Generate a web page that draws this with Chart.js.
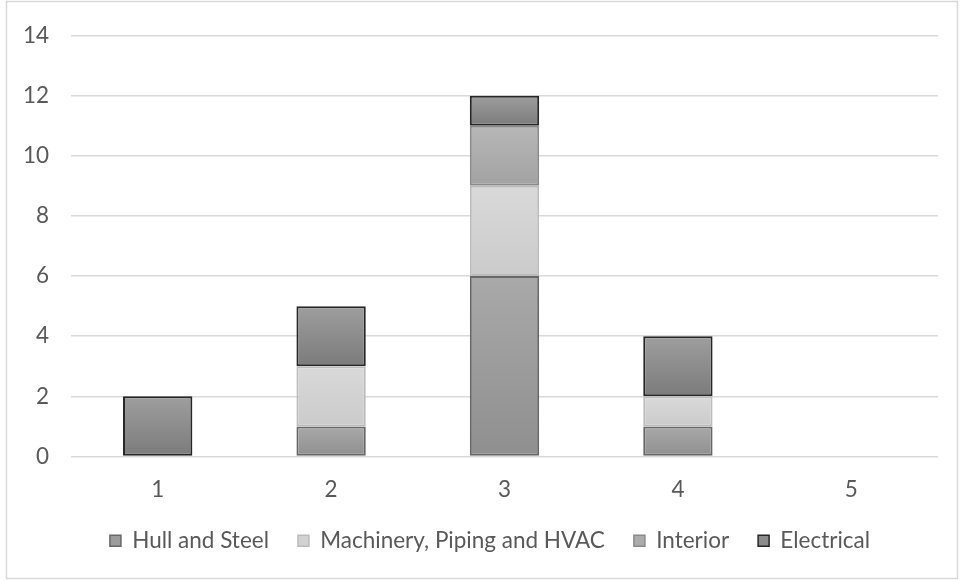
<!DOCTYPE html>
<html>
<head>
<meta charset="utf-8">
<script src="https://cdn.jsdelivr.net/npm/chart.js@4"></script>
<style>
  html, body { margin: 0; padding: 0; background: #fff; }
  #wrap { position: relative; width: 961px; height: 580px; }
</style>
</head>
<body>
<div id="wrap"><canvas id="chartArea" width="961" height="580"></canvas></div>
<script>
// Data
const categories = ['1', '2', '3', '4', '5'];
const seriesNames = ['Hull and Steel', 'Machinery, Piping and HVAC', 'Interior', 'Electrical'];
const hullSteel = [0, 1, 6, 1, 0];
const machinery = [0, 2, 3, 1, 0];
const interior = [0, 0, 2, 0, 0];
const electrical = [2, 2, 1, 2, 0];

// Colors (gradient top, gradient bottom, border)
const styles = [
    { top: '#a9a9a9', bottom: '#8f8f8f', flat: '#9c9c9c', border: '#676767' },
    { top: '#d9d9d9', bottom: '#cbcbcb', flat: '#d2d2d2', border: '#bcbcbc' },
    { top: '#b7b7b7', bottom: '#a2a2a2', flat: '#ababab', border: '#8a8a8a' },
    { top: '#9e9e9e', bottom: '#7b7b7b', flat: '#8c8c8c', border: '#262626' }
];

const textColor = '#595959';
const fontFamily = 'Lato, "Open Sans", sans-serif';
const fontSize = 22.5;

// each stacked segment gets its own vertical gradient
function segmentGradient(style) {
    return ctx => {
        if (ctx.type !== 'data') return style.flat;
        const chart = ctx.chart;
        const y = chart.scales.y;
        if (!y || !chart.chartArea) return style.flat;
        let start = 0;
        for (let d = 0; d < ctx.datasetIndex; d++) start += chart.data.datasets[d].data[ctx.dataIndex];
        const end = start + ctx.raw;
        const y0 = y.getPixelForValue(end);
        const y1 = y.getPixelForValue(start);
        if (!(y1 > y0)) return style.flat;
        const g = chart.ctx.createLinearGradient(0, y0, 0, y1);
        g.addColorStop(0, style.top);
        g.addColorStop(1, style.bottom);
        return g;
    };
}

const seriesData = [hullSteel, machinery, interior, electrical];

// light frame around the whole chart, legend nudged to sit under the plot
const framePlugin = {
    id: 'frame',
    afterLayout(chart) {
        const lg = chart.legend;
        if (lg) {
            lg.left += 21;
            lg.right += 21;
            lg.top -= 6;
            lg.bottom -= 6;
        }
    },
    beforeDraw(chart) {
        const c = chart.ctx;
        c.save();
        c.strokeStyle = '#d9d9d9';
        c.lineWidth = 1.5;
        c.strokeRect(6.5, 1.5, 951, 577);
        c.restore();
    }
};

new Chart(document.getElementById('chartArea'), {
    type: 'bar',
    data: {
        labels: categories,
        datasets: seriesNames.map((name, i) => ({
            label: name,
            data: seriesData[i],
            backgroundColor: segmentGradient(styles[i]),
            borderColor: styles[i].border,
            borderWidth: 2,
            borderSkipped: false,
            barPercentage: 0.4,
            categoryPercentage: 1
        }))
    },
    options: {
        responsive: false,
        animation: false,
        layout: { padding: { left: 0, right: 23, top: 32, bottom: 12 } },
        scales: {
            x: {
                stacked: true,
                grid: { display: false },
                border: { display: false },
                ticks: { color: textColor, font: { family: fontFamily, size: fontSize }, padding: 12 },
                afterFit: s => { s.height = 50; }
            },
            y: {
                stacked: true,
                min: 0,
                max: 14,
                grid: { color: '#d9d9d9', lineWidth: 1.5, drawTicks: false },
                border: { display: false },
                ticks: { stepSize: 2, color: textColor, font: { family: fontFamily, size: fontSize }, padding: 22 },
                afterFit: s => { s.width = 71; }
            }
        },
        plugins: {
            legend: {
                position: 'bottom',
                labels: {
                    color: textColor,
                    font: { family: fontFamily, size: fontSize },
                    boxWidth: 11,
                    boxHeight: 11,
                    padding: 29,
                    generateLabels: chart => chart.data.datasets.map((ds, i) => ({
                        text: ds.label,
                        fillStyle: styles[i].flat,
                        strokeStyle: styles[i].border,
                        lineWidth: 1.5,
                        fontColor: textColor,
                        datasetIndex: i
                    }))
                }
            },
            tooltip: { enabled: false }
        }
    },
    plugins: [framePlugin]
});
</script>
</body>
</html>
